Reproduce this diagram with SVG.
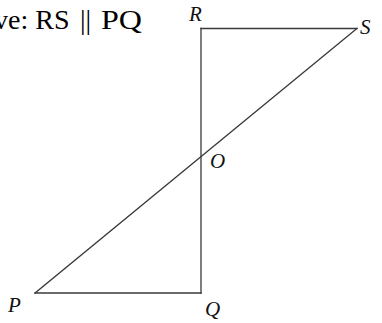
<svg xmlns="http://www.w3.org/2000/svg" width="382" height="323" viewBox="0 0 382 323">
<style>
.seg{stroke:#3a3a3a;stroke-width:1.3;fill:none;stroke-linecap:square}
.lbl{font-family:"Liberation Serif","Times New Roman",serif;font-style:italic;font-size:21px;fill:#111}
.title{font-family:"Liberation Serif","Times New Roman",serif;font-size:28px;fill:#000}
</style>
<rect width="382" height="323" fill="#fff"/>
<text class="title" x="-6" y="29">ve: RS<tspan x="80">||</tspan><tspan x="101" textLength="41" lengthAdjust="spacingAndGlyphs">PQ</tspan></text>
<g id="lines">
<line class="seg" x1="201" y1="28.5" x2="357" y2="28.5"/>
<line class="seg" x1="201" y1="28.5" x2="201" y2="293"/>
<line class="seg" x1="35" y1="293" x2="201" y2="293"/>
<line class="seg" x1="35" y1="293" x2="357" y2="28.5"/>
</g>
<g id="R"><text class="lbl" x="189" y="21">R</text></g>
<g id="S"><text class="lbl" x="360" y="34">S</text></g>
<g id="O"><text class="lbl" x="210" y="168">O</text></g>
<g id="P"><text class="lbl" x="8" y="312">P</text></g>
<g id="Q"><text class="lbl" x="205" y="316">Q</text></g>
</svg>
